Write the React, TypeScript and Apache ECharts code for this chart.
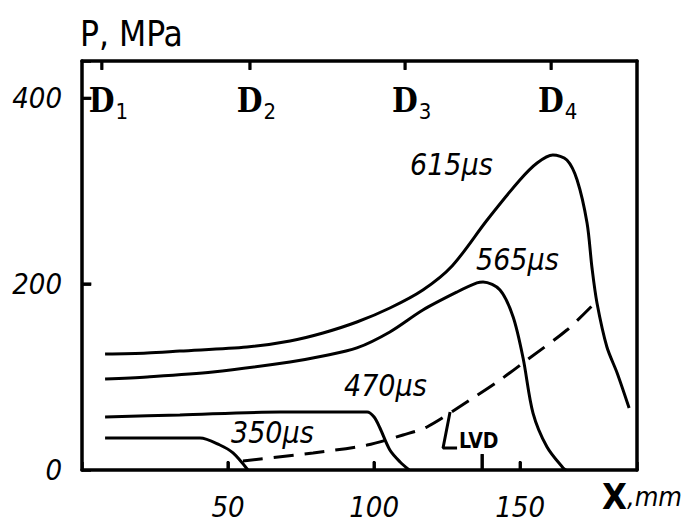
import React, { useEffect, useRef } from "react";
import * as echarts from "echarts";

// X positions of the bottom axis tick labels (mm)
const xTickValues = [50, 100, 150];
// extra (tall) marker tick on the bottom axis (mm)
const markerTick = [137];
// detector positions on the top axis (mm) and their indices
const detectorX = [6.8, 57.5, 110.6, 160.6];
const detectorIdx = ["1", "2", "3", "4"];
// y-axis tick labels (MPa)
const yTickValues = [0, 200, 400];
const yTickMarks = [200, 400];

// pressure profiles [x mm, P MPa]
const curve615 = [
  [7.9, 124.8], [22.3, 125.9], [33.5, 128.0], [56.5, 132.3], [71.2, 138.8],
  [82.5, 147.4], [94.1, 159.2], [105.4, 174.3], [116.7, 193.7], [126.7, 219.5],
  [138.7, 269.0], [149.9, 312.0], [155.8, 330.3], [161.2, 338.9], [166.0, 333.5],
  [169.5, 312.0], [172.9, 265.7], [174.6, 217.3], [176.3, 179.7], [179.7, 132.3],
  [183.2, 104.4], [187.3, 66.7],
];
const curve565 = [
  [7.9, 97.9], [22.3, 100.1], [44.8, 105.4], [71.2, 116.2], [82.5, 122.6],
  [94.1, 131.3], [105.4, 148.5], [116.7, 172.1], [128.4, 191.5], [135.2, 201.2],
  [137.3, 202.3], [143.1, 193.7], [147.6, 164.6], [151.0, 120.5], [154.4, 61.3],
  [159.2, 24.7], [164.7, 2.2], [165.7, 0],
];
const curve470 = [
  [7.9, 57.0], [33.5, 59.2], [67.8, 62.4], [97.6, 62.4], [100.0, 57.0],
  [102.0, 45.2], [105.4, 21.5], [108.9, 8.6], [112.0, 0],
];
const curve350 = [
  [7.9, 34.4], [33.5, 34.4], [40.4, 34.4], [47.2, 26.9], [51.7, 18.3], [56.8, 0],
];
// LVD trajectory (dashed)
const lvdLine = [
  [55.1, 9.7], [79.1, 18.3], [97.6, 26.9], [109.9, 37.7], [118.1, 46.3],
  [132.8, 75.3], [143.1, 96.8], [152.3, 118.3], [166.0, 150.6], [175.6, 179.7],
];
// leader for the LVD label
const lvdLeader = [[126.0, 62.4], [123.6, 23.7], [128.4, 23.7]];

const X_MAX = 190;
const Y_MAX = 440;

const FONT = "'DejaVu Sans Condensed', 'DejaVu Sans', sans-serif";

export default function App() {
  const ref = useRef<HTMLDivElement>(null);
  useEffect(() => {
    if (!ref.current) return;
    const chart = echarts.init(ref.current, null, { renderer: "svg" });
    const lineSeries = (name: string, data: number[][], dashed = false) => ({
      name,
      type: "line",
      data,
      smooth: 0.3,
      showSymbol: false,
      symbol: "none",
      lineStyle: {
        color: "#000",
        width: 3,
        type: dashed ? [20, 11] : "solid",
      },
      z: 3,
    });
    // leader + tick segments in one broken polyline (gaps separate the pieces)
    const GAP: any[] = [null, null];
    const annot: any[] = [...lvdLeader];
    detectorX.forEach((x) => annot.push(GAP, [x, Y_MAX], [x, Y_MAX - 9.5]));
    xTickValues.forEach((x) => annot.push(GAP, [x, 0], [x, 8.5]));
    markerTick.forEach((x) => annot.push(GAP, [x, 0], [x, 17]));
    yTickMarks.forEach((y) => annot.push(GAP, [0, y], [3.2, y]));

    const tickMarks = (data: number[][], size: number[], offset: number[]) => ({
      type: "scatter",
      data,
      symbol: "rect",
      symbolSize: size,
      symbolOffset: offset,
      clip: false,
      itemStyle: { color: "#000", opacity: 1 },
      z: 5,
    });
    chart.setOption({
      animation: false,
      tooltip: { show: false },
      grid: { left: 82, top: 61, width: 555, height: 409 },
      xAxis: [
        {
          type: "value",
          position: "bottom",
          min: 0,
          max: X_MAX,
          interval: 50,
          axisLine: { show: true, onZero: false, lineStyle: { color: "#000", width: 3.5 } },
          splitLine: { show: false },
          axisTick: { show: true, inside: true, length: 8, lineStyle: { color: "#000", width: 2.5 } },
          axisLabel: {
            margin: 22,
            color: "#000",
            fontFamily: FONT,
            fontStyle: "italic",
            fontSize: 29,
            formatter: (v: number) => (xTickValues.indexOf(v) >= 0 ? String(v) : ""),
          },
        },
        {
          type: "value",
          position: "top",
          min: 0,
          max: X_MAX,
          axisLine: { show: true, onZero: false, lineStyle: { color: "#000", width: 3.5 } },
          splitLine: { show: false },
          axisTick: { show: false },
          axisLabel: {
            inside: true,
            margin: 23,
            customValues: detectorX,
            color: "#000",
            formatter: (v: number) => {
              let best = 0;
              detectorX.forEach((d, i) => {
                if (Math.abs(d - v) < Math.abs(detectorX[best] - v)) best = i;
              });
              return "{d|D}{s|" + detectorIdx[best] + "}";
            },
            rich: {
              d: {
                fontFamily: "'DejaVu Serif Condensed', 'DejaVu Serif', serif",
                fontSize: 33,
                fontWeight: "bold",
                color: "#000",
                verticalAlign: "top",
                padding: [0, 0, 0, 13],
              },
              s: {
                fontFamily: FONT,
                fontSize: 22,
                color: "#000",
                padding: [16, 0, 0, 1],
              },
            },
          },
        },
      ],
      yAxis: [
        {
          type: "value",
          position: "left",
          min: 0,
          max: Y_MAX,
          interval: 200,
          axisLine: { show: true, onZero: false, lineStyle: { color: "#000", width: 3.5 } },
          splitLine: { show: false },
          axisTick: { show: true, inside: true, length: 9, lineStyle: { color: "#000", width: 2.5 } },
          axisLabel: {
            margin: 20,
            color: "#000",
            fontFamily: FONT,
            fontStyle: "italic",
            fontSize: 29,
            formatter: (v: number) => (yTickValues.indexOf(v) >= 0 ? String(v) : ""),
          },
        },
        {
          type: "value",
          position: "right",
          min: 0,
          max: Y_MAX,
          axisLine: { show: true, onZero: false, lineStyle: { color: "#000", width: 3.5 } },
          splitLine: { show: false },
          axisTick: { show: false },
          axisLabel: { show: false },
        },
      ],
      graphic: [
        {
          type: "text",
          left: 80,
          top: 16,
          style: { text: "P, MPa", fontFamily: FONT, fontSize: 35, fill: "#000" },
        },
        {
          type: "text",
          left: 602,
          top: 478,
          style: {
            text: "{x|X}{m|,mm}",
            rich: {
              x: { fontFamily: FONT, fontSize: 36, fontWeight: "bold", fill: "#000" },
              m: { fontFamily: FONT, fontSize: 27, fontStyle: "italic", fill: "#000" },
            },
          },
        },
        { type: "text", left: 410, top: 149, style: { text: "615μs", fontFamily: FONT, fontStyle: "italic", fontSize: 30, fill: "#000" } },
        { type: "text", left: 476, top: 244, style: { text: "565μs", fontFamily: FONT, fontStyle: "italic", fontSize: 30, fill: "#000" } },
        { type: "text", left: 344, top: 370, style: { text: "470μs", fontFamily: FONT, fontStyle: "italic", fontSize: 30, fill: "#000" } },
        { type: "text", left: 231, top: 417, style: { text: "350μs", fontFamily: FONT, fontStyle: "italic", fontSize: 30, fill: "#000" } },
        { type: "text", left: 459, top: 430, style: { text: "LVD", fontFamily: FONT, fontWeight: "bold", fontSize: 21, fill: "#000" } },
      ],
      series: [
        lineSeries("615 μs", curve615),
        lineSeries("565 μs", curve565),
        lineSeries("470 μs", curve470),
        lineSeries("350 μs", curve350),
        lineSeries("LVD", lvdLine, true),
        {
          name: "LVD leader",
          type: "line",
          data: annot,
          connectNulls: false,
          showSymbol: false,
          symbol: "none",
          clip: false,
          lineStyle: { color: "#000", width: 3 },
        },
        tickMarks(detectorX.map((x) => [x, Y_MAX]), [2.5, 9], [0, 4.5]),
        tickMarks(xTickValues.map((x) => [x, 0]), [2.5, 9], [0, -4.5]),
        tickMarks(markerTick.map((x) => [x, 0]), [3, 16], [0, -8]),
        tickMarks(yTickMarks.map((y) => [0, y]), [9, 2.5], [4.5, 0]),
      ],
    });
    return () => chart.dispose();
  }, []);
  return (
    <div
      ref={ref}
      style={{ position: "absolute", left: 0, top: 0, width: 687, height: 524 }}
    />
  );
}
